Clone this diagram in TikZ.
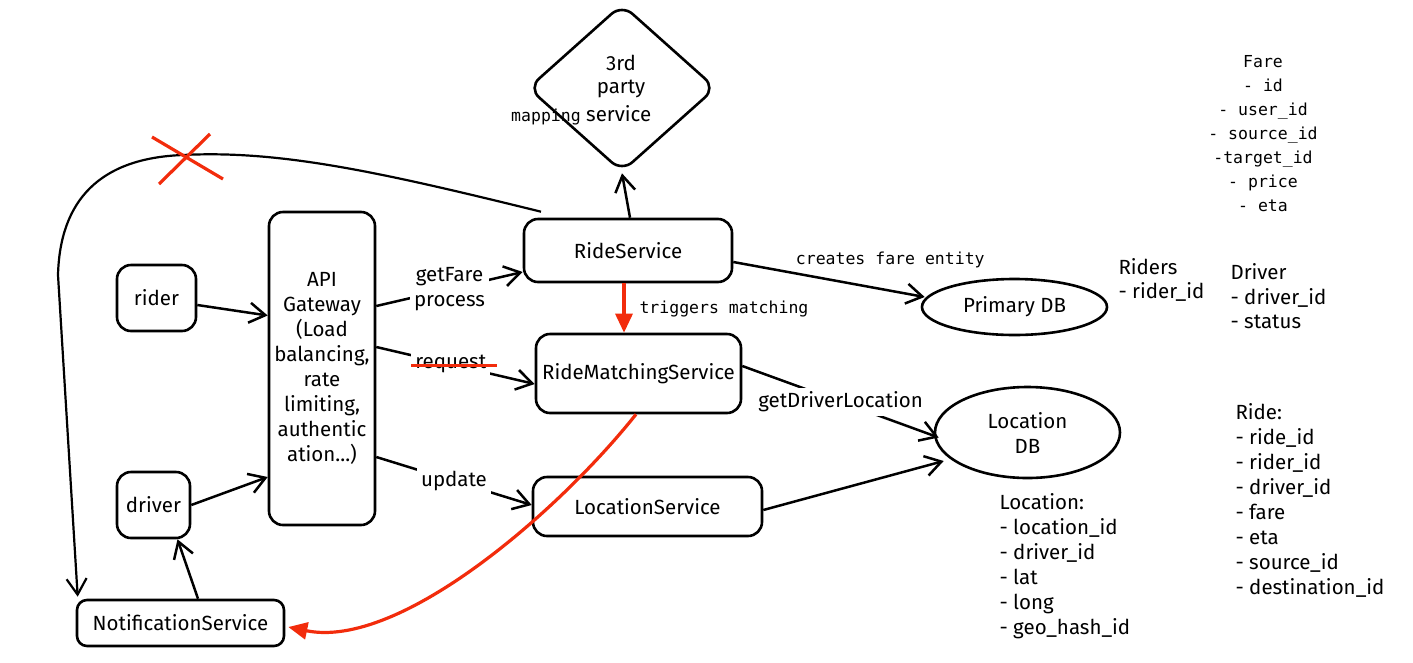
\documentclass[tikz,border=0pt]{standalone}
\usepackage{fontspec}
\setmainfont{Fira Sans}
\setmonofont{DejaVu Sans Mono}
\usetikzlibrary{arrows.meta,shapes.geometric,calc}
\definecolor{xred}{RGB}{242,44,12}
\begin{document}
\begin{tikzpicture}[x=1pt,y=-1pt,
  box/.style={draw,line width=2.6pt,rounded corners=14pt,inner sep=0pt},
  hand/.style={font=\fontsize{20.5}{25}\selectfont},
  mono/.style={font=\ttfamily\fontsize{16.5}{24}\selectfont},
  arr/.style={line width=2.5pt,-{Straight Barb[length=16pt,width=20pt]}},
  redarr/.style={xred,line width=3.2pt,-{Triangle[length=19pt,width=17pt]}},
  lbl/.style={hand,fill=white,inner sep=4pt,align=center},
  db/.style={ellipse,draw,line width=2.6pt,inner sep=0pt,hand,align=center}]
\useasboundingbox (0,0) rectangle (1413,662);
% nodes
\node[diamond,draw,line width=2.6pt,minimum width=188pt,minimum height=168pt,inner sep=0pt,rounded corners=14pt] (map) at (622,88) {};
\node[hand] (t1) at (621,63) {3rd};
\node[hand] (t2) at (621,89) {party};
\node[mono,anchor=base west,inner sep=0pt] (t3) at (511,121) {mapping};
\node[hand,anchor=base west,inner sep=0pt] (t4) at (586,121) {service};
\node[box,minimum width=79pt,minimum height=66pt,hand] (rider) at (156.5,298) {rider};
\node[box,minimum width=73pt,minimum height=66pt,hand] (driver) at (153.5,505) {driver};
\node[box,minimum width=106pt,minimum height=313pt,hand,align=center] (api) at (322,368.5) {API\\Gateway\\(Load\\balancing,\\rate\\limiting,\\authentic\\ation...)};
\node[box,minimum width=208pt,minimum height=63pt,hand] (ride) at (628,250.5) {RideService};
\node[box,minimum width=205pt,minimum height=79pt,hand] (rms) at (638.5,373.5) {RideMatchingService};
\node[box,minimum width=229pt,minimum height=59pt,hand] (loc) at (647.5,506.5) {LocationService};
\node[box,minimum width=207pt,minimum height=46pt,hand,rounded corners=10pt] (notif) at (180.5,623) {NotificationService};
\node[db,minimum width=185pt,minimum height=56pt] (pdb) at (1014.5,307) {Primary DB};
\node[db,minimum width=185pt,minimum height=91pt] (ldb) at (1027.5,432.5) {Location\\DB};
% side notes
\node[mono,align=center] (fare) at (1263,133.5) {Fare\\- id\\- user\_id\\- source\_id\\-target\_id\\- price\\- eta};
\node[hand,align=left,anchor=west,font=\fontsize{20.5}{24}\selectfont] (riders) at (1115,280) {Riders\\- rider\_id};
\node[hand,align=left,anchor=west,font=\fontsize{20.5}{24.5}\selectfont] (drv) at (1227,296.5) {Driver\\- driver\_id\\- status};
\node[hand,align=left,anchor=west] (locn) at (996,566.5) {Location:\\- location\_id\\- driver\_id\\- lat\\- long\\- geo\_hash\_id};
\node[hand,align=left,anchor=west] (riden) at (1232,500.5) {Ride:\\- ride\_id\\- rider\_id\\- driver\_id\\- fare\\- eta\\- source\_id\\- destination\_id};
% connectors
\draw[arr] ($(ride.north)+(2,0)$) -- (map.south);
\draw[arr] ($(rider.east)+(0,7)$) -- ($(api.west)+(0,-53)$);
\draw[arr] (driver.east) -- ($(api.west)+(0,108.5)$);
\draw[arr] ($(notif.north)+(17.5,0)$) -- ($(driver.south)+(24,0)$);
\draw[arr] ($(api.east)+(0,-62.5)$) -- node[lbl] (gf) {getFare\\process} ($(ride.west)+(0,21.5)$);
\draw[arr] ($(api.east)+(0,-21.5)$) -- node[lbl,pos=0.47] (req) {request} ($(rms.west)+(0,10.5)$);
\draw[xred,line width=3.2pt] ($(req.west)+(1,1)$) -- ($(req.east)+(6,1)$);
\draw[arr] ($(api.east)+(0,88.5)$) -- node[lbl] (upd) {update} ($(loc.west)+(0,-1.5)$);
\draw[arr] ($(ride.east)+(0,11.5)$) -- node[mono,pos=0.82,yshift=31pt] (cfe) {creates fare entity} ($(pdb.west)+(4,-10)$);
\draw[redarr] ($(ride.south)+(-4,0)$) -- ($(rms.north)+(-14.5,0)$);
\node[mono,anchor=west] (trig) at (636,309) {triggers matching};
\draw[arr] ($(rms.east)+(0,-7.5)$) -- node[lbl] (gdl) {getDriverLocation} ($(ldb.west)+(5,5)$);
\draw[arr] ($(loc.east)+(0,3.5)$) -- ($(ldb.west)+(10,28.5)$);
\draw[redarr] ($(rms.south)+(-2.5,0)$) .. controls (560,510) and (400,650) .. ($(notif.east)+(3,4)$);
\draw[arr,line width=2.2pt] ($(ride.north)+(-87,-6)$) .. controls (380,172) and (280,150) .. (183,155)
   .. controls (100,158) and (60,200) .. (58,275) -- ($(notif.north west)+(2,-2)$);
% red cross
\draw[xred,line width=3.2pt] (152,137) -- (223,179);
\draw[xred,line width=3.2pt] (210,134) -- (159,184);
\end{tikzpicture}
\end{document}
